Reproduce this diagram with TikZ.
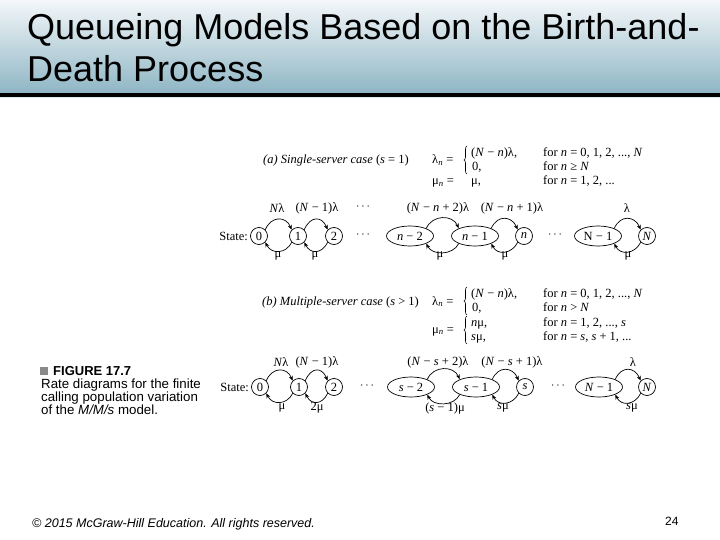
\documentclass[tikz,border=0pt]{standalone}
\usepackage{fontspec}
\setmainfont{Liberation Serif}
\newfontfamily\arialf{Liberation Sans}
\usetikzlibrary{shapes.geometric,arrows.meta,decorations.pathreplacing}
\definecolor{hdrtop}{HTML}{F3F7F9}
\definecolor{hdrbot}{HTML}{8FB6C5}
\definecolor{hdrline}{HTML}{D2EEF2}
\definecolor{capsq}{HTML}{8A8A8A}
\begin{document}
\begin{tikzpicture}[x=1pt,y=-1pt,
  fs/.style={font=\fontsize{12.5}{14}\selectfont},
  txt/.style={fs, anchor=base west, inner sep=0pt},
  lab/.style={fs, anchor=center, inner sep=0pt},
  st/.style={circle, draw, line width=0.7pt, minimum size=17pt, inner sep=0pt, fs},
  el/.style={ellipse, draw, line width=0.7pt, minimum width=47pt, minimum height=20pt, inner sep=0pt, fs},
  arr/.style={line width=0.7pt, -{Stealth[length=5pt,width=4pt]}},
  brc/.style={decorate, decoration={brace, amplitude=3pt}, line width=0.6pt},
  capt/.style={anchor=base west, inner sep=0pt, font=\arialf\fontsize{13.3}{15}\selectfont}]
\useasboundingbox (0,0) rectangle (720,540);
% header
\shade[top color=hdrtop, bottom color=hdrbot] (0,0) rectangle (720,93);
\fill[black] (0,93) rectangle (720,97);
\fill[hdrline] (0,97) rectangle (720,98.5);
\node[anchor=base west, inner sep=0pt, font=\arialf\fontsize{36}{40}\selectfont] (title1) at (27,40) {Queueing Models Based on the Birth-and-};
\node[anchor=base west, inner sep=0pt, font=\arialf\fontsize{36}{40}\selectfont] (title2) at (27,82) {Death Process};
% footer
\node[anchor=base west, inner sep=0pt, font=\arialf\itshape\fontsize{12.5}{14}\selectfont] (foot) at (32,527) {© 2015 McGraw-Hill Education. All rights reserved.};
\node[anchor=base west, inner sep=0pt, font=\arialf\fontsize{12}{14}\selectfont] (pnum) at (665,525) {24};
% caption
\fill[capsq] (40,367) rectangle (48,375);
\node[capt, font=\arialf\bfseries\fontsize{13}{15}\selectfont] (figt) at (53,375.5) {FIGURE 17.7};
\node[capt] (cap1) at (41,388) {Rate diagrams for the finite};
\node[capt] (cap2) at (41,401) {calling population variation};
\begin{scope}
\clip (0,0) rectangle (720,415);
\node[capt] (cap3) at (41,414) {of the \textit{M/M/s} model.};
\end{scope}
% (a) header
\node[txt] (ha) at (263,164) {\textit{(a) Single-server case} (\textit{s} = 1)};
\node[txt] (la) at (432,164) {λ\textsubscript{\textit{n}} =};
\draw[brc] (467,174) -- (467,146);
\node[txt] (la1) at (471,157) {(\textit{N} − \textit{n})λ,};
\node[txt] (la2) at (472,171) {0,};
\node[txt] (ma) at (432,185) {μ\textsubscript{\textit{n}} =};
\node[txt] (ma1) at (471,185) {μ,};
\node[txt] (fa1) at (543,157) {for \textit{n} = 0, 1, 2, ..., \textit{N}};
\node[txt] (fa2) at (543,171) {for \textit{n} ≥ \textit{N}};
\node[txt] (fa3) at (543,185) {for \textit{n} = 1, 2, ...};
% (a) diagram
\node[lab, anchor=east] (sa) at (248,236) {State:};
\node[st] (a0) at (259,236) {0};
\node[st] (a1) at (298,236) {1};
\node[st] (a2) at (334,236) {2};
\node[lab] (ad1) at (363,235) {\ensuremath{\cdots}};
\node[el] (an2) at (410,236) {\textit{n} − 2};
\node[el] (an1) at (475,236) {\textit{n} − 1};
\node[st] (an) at (524,236) {\textit{n}};
\node[lab] (ad2) at (555,235) {\ensuremath{\cdots}};
\node[el] (aN1) at (598,236) {N − 1};
\node[st] (aN) at (647,236) {\textit{N}};
\node[lab] (ta1) at (277,208) {\textit{N}λ};
\node[lab] (ta2) at (317,208) {(\textit{N} − 1)λ};
\node[lab] (ta3) at (363,207) {\ensuremath{\cdots}};
\node[lab] (ta4) at (438,208) {(\textit{N} − \textit{n} + 2)λ};
\node[lab] (ta5) at (512,208) {(\textit{N} − \textit{n} + 1)λ};
\node[lab] (ta6) at (627,208) {λ};
\node[lab] (ba1) at (278,256) {μ};
\node[lab] (ba2) at (315,256) {μ};
\node[lab] (ba3) at (440,256) {μ};
\node[lab] (ba4) at (505,256) {μ};
\node[lab] (ba5) at (628,256) {μ};
\draw[arr] (a0.45) .. controls +(6,-14) and +(-6,-14) .. (a1.135);
\draw[arr] (a1.-135) .. controls +(-6,12) and +(6,12) .. (a0.-45);
\draw[arr] (a1.45) .. controls +(6,-14) and +(-6,-14) .. (a2.135);
\draw[arr] (a2.-135) .. controls +(-6,12) and +(6,12) .. (a1.-45);
\draw[arr] (an2.25) .. controls +(6,-14) and +(-6,-14) .. (an1.155);
\draw[arr] (an1.-155) .. controls +(-6,12) and +(6,12) .. (an2.-25);
\draw[arr] (an1.25) .. controls +(6,-14) and +(-6,-14) .. (an.135);
\draw[arr] (an.-135) .. controls +(-6,12) and +(6,12) .. (an1.-25);
\draw[arr] (aN1.25) .. controls +(6,-14) and +(-6,-14) .. (aN.135);
\draw[arr] (aN.-135) .. controls +(-6,12) and +(6,12) .. (aN1.-25);
% (b) header
\node[txt] (hb) at (262,305) {\textit{(b) Multiple-server case} (\textit{s} > 1)};
\node[txt] (lb) at (432,305) {λ\textsubscript{\textit{n}} =};
\draw[brc] (467,315) -- (467,287);
\node[txt] (lb1) at (471,297) {(\textit{N} − \textit{n})λ,};
\node[txt] (lb2) at (472,311) {0,};
\node[txt] (mb) at (432,333) {μ\textsubscript{\textit{n}} =};
\draw[brc] (467,344) -- (467,316);
\node[txt] (mb1) at (471,326) {\textit{n}μ,};
\node[txt] (mb2) at (471,340) {\textit{s}μ,};
\node[txt] (fb1) at (543,297) {for \textit{n} = 0, 1, 2, ..., \textit{N}};
\node[txt] (fb2) at (543,311) {for \textit{n} > \textit{N}};
\node[txt] (fb3) at (543,326) {for \textit{n} = 1, 2, ..., \textit{s}};
\node[txt] (fb4) at (543,340) {for \textit{n} = \textit{s}, \textit{s} + 1, ...};
% (b) diagram
\node[lab, anchor=east] (sb) at (249,387) {State:};
\node[st] (b0) at (260,387) {0};
\node[st] (b1) at (299,387) {1};
\node[st] (b2) at (334,387) {2};
\node[lab] (bd1) at (367,386) {\ensuremath{\cdots}};
\node[el] (bs2) at (411,387) {\textit{s} − 2};
\node[el] (bs1) at (476,387) {\textit{s} − 1};
\node[st] (bs) at (525,387) {\textit{s}};
\node[lab] (bd2) at (558,386) {\ensuremath{\cdots}};
\node[el] (bN1) at (599,387) {\textit{N} − 1};
\node[st] (bN) at (647,387) {\textit{N}};
\node[lab] (tb1) at (281,362) {\textit{N}λ};
\node[lab] (tb2) at (317,362) {(\textit{N} − 1)λ};
\node[lab] (tb4) at (438,362) {(\textit{N} − \textit{s} + 2)λ};
\node[lab] (tb5) at (512,362) {(\textit{N} − \textit{s} + 1)λ};
\node[lab] (tb6) at (633,362) {λ};
\node[lab] (bb1) at (282,408) {μ};
\node[lab] (bb2) at (317,408) {2μ};
\node[lab] (bb3) at (445,408) {(\textit{s} − 1)μ};
\node[lab] (bb4) at (503,408) {\textit{s}μ};
\node[lab] (bb5) at (632,408) {\textit{s}μ};
\draw[arr] (b0.45) .. controls +(6,-14) and +(-6,-14) .. (b1.135);
\draw[arr] (b1.-135) .. controls +(-6,12) and +(6,12) .. (b0.-45);
\draw[arr] (b1.45) .. controls +(6,-14) and +(-6,-14) .. (b2.135);
\draw[arr] (b2.-135) .. controls +(-6,12) and +(6,12) .. (b1.-45);
\draw[arr] (bs2.25) .. controls +(6,-14) and +(-6,-14) .. (bs1.155);
\draw[arr] (bs1.-155) .. controls +(-6,12) and +(6,12) .. (bs2.-25);
\draw[arr] (bs1.25) .. controls +(6,-14) and +(-6,-14) .. (bs.135);
\draw[arr] (bs.-135) .. controls +(-6,12) and +(6,12) .. (bs1.-25);
\draw[arr] (bN1.25) .. controls +(6,-14) and +(-6,-14) .. (bN.135);
\draw[arr] (bN.-135) .. controls +(-6,12) and +(6,12) .. (bN1.-25);
\end{tikzpicture}
\end{document}
